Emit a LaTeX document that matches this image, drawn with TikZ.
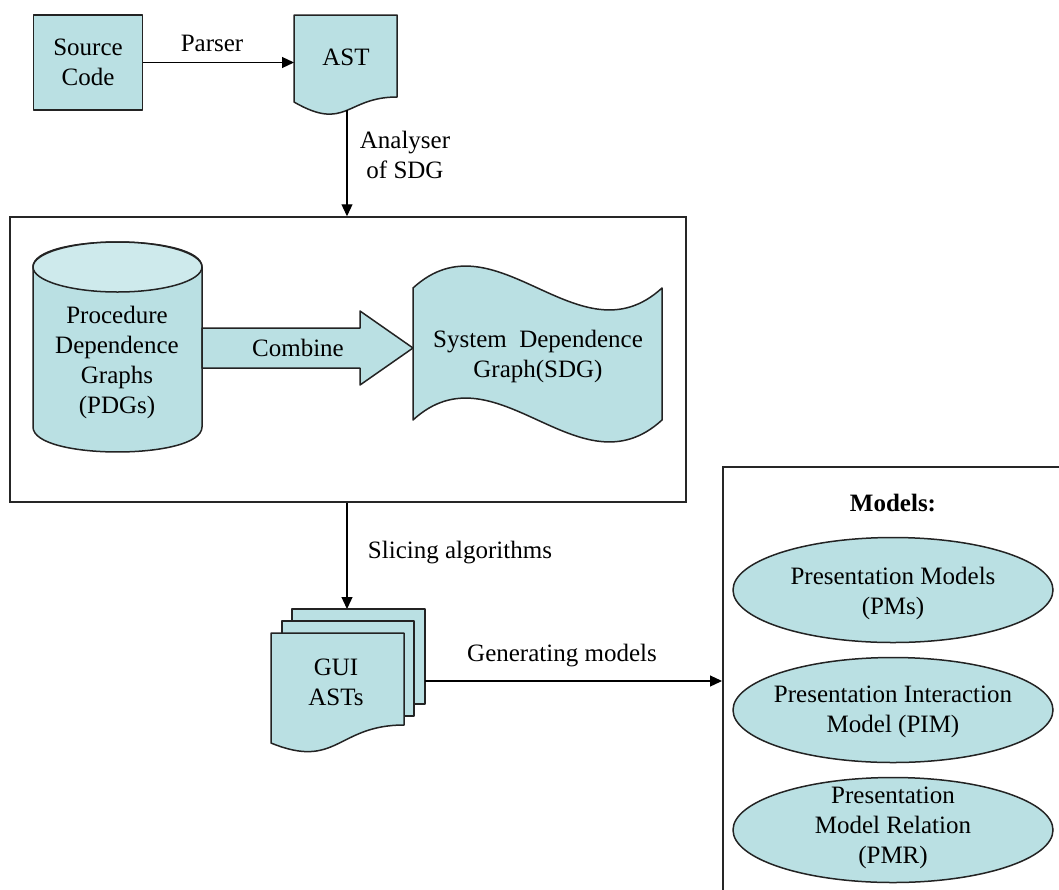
\documentclass[tikz,border=0pt]{standalone}
\usepackage{fontspec}
\setmainfont{Liberation Serif}
\usetikzlibrary{arrows.meta,shapes.geometric}
\definecolor{boxfill}{RGB}{186,224,227}
\definecolor{capfill}{RGB}{206,234,236}
\definecolor{edge}{RGB}{35,35,35}
\begin{document}
\begin{tikzpicture}[x=1pt,y=-1pt,
  every node/.style={font=\fontsize{25}{30}\selectfont, align=center, text=black, inner sep=0pt},
  shapefill/.style={draw=edge, line width=1.5pt, fill=boxfill, line join=round},
  frame/.style={draw=black!85, line width=1.5pt},
  arr/.style={draw=black, line width=1.2pt, -{Triangle[length=12pt,width=11pt]}}]
\clip (0,0) rectangle (1059,889);
\fill[white] (0,0) rectangle (1059,889);

% Source code
\node[shapefill, minimum width=109pt, minimum height=95pt] (src) at (88,62.5) {Source\\Code};

% AST document
\path[shapefill] (294,15) -- (397,15) -- (397,97) .. controls (346,97) and (346,132) .. (294,102) -- cycle;
\node (ast) at (346,57) {AST};
\coordinate (astin) at (294,62.5);
\coordinate (astout) at (347,110);

\draw[arr] (src.east) -- (astin);
\node (parser) at (212,43) {Parser};

% outer frame around the SDG construction
\node[frame, minimum width=676pt, minimum height=285pt] (sdgbox) at (348,359.5) {};
\draw[arr] (astout) -- (astout |- sdgbox.north);
\node (analyser) at (405,155) {Analyser\\of SDG};

% cylinder of PDGs
\path[shapefill] (33,267) -- (33,427) .. controls (33,460.3) and (202,460.3) .. (202,427)
  -- (202,267) .. controls (202,233.7) and (33,233.7) .. (33,267) -- cycle;
\path[shapefill, fill=capfill] (117.5,267) ellipse [x radius=84.5, y radius=25];
\node (pdg) at (117,362) {Procedure\\Dependence\\Graphs\\(PDGs)};

% block arrow "Combine"
\path[shapefill] (202,328) -- (360,328) -- (360,311) -- (413,348) -- (360,385) -- (360,368) -- (202,368) -- cycle;
\node (combine) at (298,348) {Combine};

% SDG wave shape
\path[shapefill] (413,288) .. controls (496,212) and (579,364) .. (662,288)
  -- (662,420) .. controls (579,496) and (496,344) .. (413,420) -- cycle;
\node (sdg) at (538,356) {System\ \ Dependence\\Graph(SDG)};

% stack of GUI ASTs
\coordinate (guitop) at (347,609);
\draw[arr] (astout |- sdgbox.south) -- (guitop);
\node (slicing) at (460,553) {Slicing algorithms};
\path[shapefill] (292,609) rectangle (425,704);
\path[shapefill] (282,621) rectangle (414,716);
\path[shapefill] (271,633) -- (404,633) -- (404,725) .. controls (337,725) and (337,770) .. (271,743) -- cycle;
\node (gui) at (336,682) {GUI\\ASTs};
\coordinate (guiout) at (425,681);

% models panel
\node[frame, minimum width=360pt, minimum height=440pt, anchor=north west] (models) at (722,466) {};
\draw[arr] (guiout) -- (guiout -| models.west);
\node (generating) at (562,656) {Generating models};
\node[font=\fontsize{25}{30}\selectfont\bfseries] (modelstitle) at (893,503) {Models:};

\path[shapefill] (893,590) ellipse [x radius=160, y radius=52.5];
\node (pm) at (893,593) {Presentation Models\\(PMs)};
\path[shapefill] (893,710) ellipse [x radius=160, y radius=52.5];
\node (pim) at (893,712) {Presentation Interaction\\Model (PIM)};
\path[shapefill] (893,830) ellipse [x radius=160, y radius=52.5];
\node (pmr) at (893,828) {Presentation\\Model Relation\\(PMR)};
\end{tikzpicture}
\end{document}
